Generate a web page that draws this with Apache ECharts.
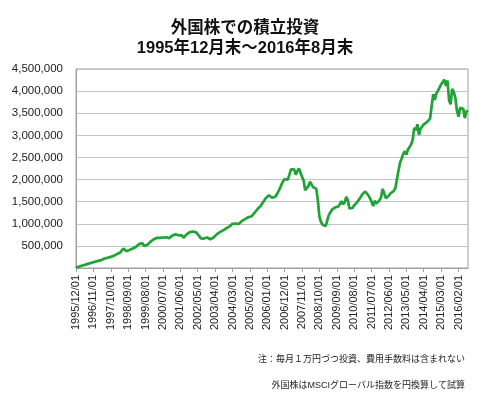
<!DOCTYPE html>
<html>
<head>
<meta charset="utf-8">
<script src="https://cdn.jsdelivr.net/npm/echarts@6/dist/echarts.min.js"></script>
<style>
html,body{margin:0;padding:0;background:#fff;}
#c{width:500px;height:394px;}
</style>
</head>
<body>
<div id="c"></div>
<script>
// Title and notes
var titleLine1 = '外国株での積立投資';
var titleLine2 = '1995年12月末～2016年8月末';
var note1 = '注：毎月１万円づつ投資、費用手数料は含まれない';
var note2 = '外国株はMSCIグローバル指数を円換算して試算';

// Categories: monthly from 1995/12 to 2016/08
var startYear = 1995, startMonth = 12, monthCount = 249;
var categories = [];
for (var k = 0; k < monthCount; k++) {
  var mm = startMonth - 1 + k;
  var yy = startYear + Math.floor(mm / 12);
  var m = (mm % 12) + 1;
  categories.push(yy + '/' + (m < 10 ? '0' + m : m) + '/01');
}

// Value of accumulated investment (yen, thousands)
var valuesThousand = [
  10,
  21, 32, 44, 55, 67, 76, 86, 99, 110, 120, 128, 140,
  152, 160, 168, 178, 192, 215, 222, 230, 240, 252, 262, 275,
  295, 318, 330, 352, 385, 440, 455, 378, 390, 410, 430, 440,
  465, 480, 505, 545, 540, 560, 500, 505, 520, 560, 590, 630,
  645, 655, 680, 665, 680, 700, 690, 705, 695, 690, 675, 720,
  735, 705, 760, 775, 740, 730, 740, 680, 720, 760, 785, 810,
  800, 825, 790, 805, 770, 720, 670, 640, 665, 710, 690, 665,
  650, 640, 690, 700, 760, 790, 810, 830, 850, 880, 895, 915,
  935, 950, 1000, 990, 1005, 1010, 995, 1020, 1065, 1075, 1105, 1130,
  1150, 1175, 1165, 1210, 1250, 1290, 1340, 1375, 1410, 1470, 1520, 1575,
  1610, 1645, 1655, 1590, 1580, 1610, 1660, 1730, 1800, 1890, 1960, 2010,
  1980, 2000, 2110, 2230, 2270, 2230, 2110, 2190, 2250, 2160, 2060, 1980,
  1760, 1720, 1850, 1950, 1940, 1830, 1820, 1790, 1530, 1160, 1040, 980,
  960, 950, 1080, 1200, 1260, 1320, 1350, 1370, 1380, 1390, 1375, 1510,
  1440, 1490, 1610, 1530, 1345, 1390, 1360, 1420, 1460, 1490, 1520, 1600,
  1660, 1700, 1730, 1710, 1640, 1620, 1500, 1400, 1520, 1460, 1490, 1530,
  1600, 1790, 1760, 1580, 1610, 1640, 1690, 1700, 1740, 1800, 2000, 2200,
  2380, 2470, 2580, 2640, 2560, 2680, 2650, 2790, 2900, 3170, 3120, 3250,
  3010, 3150, 3200, 3250, 3280, 3300, 3340, 3380, 3660, 3930, 3800, 3950,
  4010, 4080, 4150, 4140, 4260, 4120, 4240, 3800, 3700, 4050, 3980, 3850,
  3560, 3420, 3620, 3660, 3600, 3390, 3540, 3560
];
var values = valuesThousand.map(function (v) { return v * 1000; });

// Y axis ticks
var yMin = 0, yMax = 4500000, yInterval = 500000;

var chart = echarts.init(document.getElementById('c'), null, {renderer: 'canvas'});
var fontMain = 'Arial, "Liberation Sans", "Noto Sans CJK JP", sans-serif';
chart.setOption({
  animation: false,
  backgroundColor: '#ffffff',
  title: [
    {text: titleLine1, left: 240, top: 15, textAlign: 'center',
     textStyle: {fontSize: 16.5, fontWeight: 'bold', color: '#111', fontFamily: fontMain}},
    {text: titleLine2, left: 240, top: 35, textAlign: 'center',
     textStyle: {fontSize: 16.5, fontWeight: 'bold', color: '#111', fontFamily: fontMain}},
    {text: note1, right: 30, top: 350,
     textStyle: {fontSize: 9, fontWeight: 'normal', color: '#222', fontFamily: fontMain}},
    {text: note2, right: 30, top: 376,
     textStyle: {fontSize: 9, fontWeight: 'normal', color: '#222', fontFamily: fontMain}}
  ],
  grid: {left: 76, right: 32, top: 69, bottom: 126, show: true, borderColor: '#a0a0a0', borderWidth: 1},
  xAxis: {
    type: 'category',
    data: categories,
    boundaryGap: false,
    axisLine: {lineStyle: {color: '#a0a0a0', width: 1}},
    axisTick: {show: true, interval: 10, length: 4, lineStyle: {color: '#a0a0a0'}},
    axisLabel: {interval: 10, rotate: 90, fontSize: 11, color: '#222', margin: 7, fontFamily: fontMain},
    splitLine: {show: false}
  },
  yAxis: {
    type: 'value',
    min: yMin, max: yMax, interval: yInterval,
    axisLine: {show: true, lineStyle: {color: '#a0a0a0'}},
    axisTick: {show: false},
    axisLabel: {fontSize: 11.5, color: '#222', margin: 13, fontFamily: fontMain,
      formatter: function (v) { return v === 0 ? '' : v.toString().replace(/\B(?=(\d{3})+(?!\d))/g, ','); }},
    splitLine: {lineStyle: {color: '#c4c4c4', width: 1}}
  },
  series: [{
    type: 'line',
    data: values,
    showSymbol: false,
    lineStyle: {color: '#1fa336', width: 2.7},
    itemStyle: {color: '#1fa336'}
  }]
});
</script>
</body>
</html>
